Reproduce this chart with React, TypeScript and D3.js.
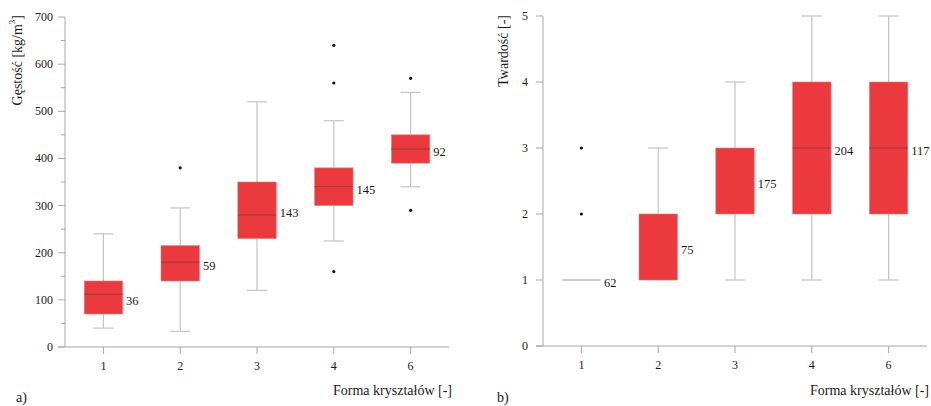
import React from "react";
import * as d3 from "d3";

const categories = ["1", "2", "3", "4", "6"];

// Panel a) density
const densityLow = [40, 33, 120, 225, 340];
const densityQ1 = [70, 140, 230, 300, 390];
const densityMedian = [112, 180, 280, 340, 420];
const densityQ3 = [140, 215, 350, 380, 450];
const densityHigh = [240, 295, 520, 480, 540];
const densityOutliers = [[], [380], [], [640, 560, 160], [570, 290]];
const densityN = [36, 59, 143, 145, 92];
const densityTicks = [0, 100, 200, 300, 400, 500, 600, 700];
const densityMinor = [50, 150, 250, 350, 450, 550, 650];

// Panel b) hardness
const hardLow = [1, 1, 1, 1, 1];
const hardQ1 = [1, 1, 2, 2, 2];
const hardMedian = [1, 1, 2, 3, 3];
const hardQ3 = [1, 2, 3, 4, 4];
const hardHigh = [1, 3, 4, 5, 5];
const hardOutliers = [[3, 2], [], [], [], []];
const hardN = [62, 75, 175, 204, 117];
const hardTicks = [0, 1, 2, 3, 4, 5];

const FONT = "Liberation Serif, Times New Roman, serif";
const BOX_FILL = "#ec393d";
const MEDIAN = "#9a3a3a";
const WHISKER = "#c4c4c4";
const AXIS = "#a8a8a8";
const TEXT = "#1a1a1a";

const tickStyle: React.CSSProperties = { fontFamily: FONT, fontSize: "12px" };
const labelStyle: React.CSSProperties = { fontFamily: FONT, fontSize: "12.5px" };
const titleStyle: React.CSSProperties = { fontFamily: FONT, fontSize: "14px" };

type PanelProps = {
  x0: number;
  x1: number;
  yTop: number;
  yBottom: number;
  domainMax: number;
  ticks: number[];
  minor: number[];
  low: number[];
  q1: number[];
  med: number[];
  q3: number[];
  high: number[];
  outliers: number[][];
  n: number[];
  yTitle: React.ReactNode;
  yTitleX: number;
  tickGap: number;
  xTitleRight: number;
  letter: string;
  letterX: number;
};

function Panel(p: PanelProps) {
  const x = d3.scaleBand<string>().domain(categories).range([p.x0, p.x1]).padding(0);
  const y = d3.scaleLinear().domain([0, p.domainMax]).range([p.yBottom, p.yTop]);
  const bw = x.bandwidth();
  const boxW = bw * 0.5;
  const capW = bw * 0.26;
  return (
    <g>
      <line x1={p.x0} x2={p.x0} y1={p.yTop} y2={p.yBottom} stroke={AXIS} strokeWidth={1} />
      <line x1={p.x0 - 7} x2={p.x1} y1={p.yBottom} y2={p.yBottom} stroke={AXIS} strokeWidth={1} />
      {p.ticks.map((t) => (
        <g key={"t" + t}>
          <line x1={p.x0 - 7} x2={p.x0} y1={y(t)} y2={y(t)} stroke={AXIS} strokeWidth={1} />
          <text x={p.x0 - p.tickGap} y={y(t)} textAnchor="end" dominantBaseline="central" style={tickStyle} fill={TEXT}>
            {t}
          </text>
        </g>
      ))}
      {p.minor.map((t) => (
        <line key={"m" + t} x1={p.x0 - 4} x2={p.x0} y1={y(t)} y2={y(t)} stroke={AXIS} strokeWidth={1} />
      ))}
      {categories.map((c) => {
        const cx = (x(c) as number) + bw / 2;
        return (
          <g key={"x" + c}>
            <line x1={cx} x2={cx} y1={p.yBottom} y2={p.yBottom + 7} stroke={AXIS} strokeWidth={1} />
            <text x={cx} y={p.yBottom + 19} textAnchor="middle" dominantBaseline="central" style={tickStyle} fill={TEXT}>
              {c}
            </text>
          </g>
        );
      })}
      {categories.map((c, i) => {
        const cx = (x(c) as number) + bw / 2;
        const yq1 = y(p.q1[i]);
        const yq3 = y(p.q3[i]);
        const ym = y(p.med[i]);
        const flat = p.q1[i] === p.q3[i];
        const showMed = !flat && p.med[i] !== p.q1[i] && p.med[i] !== p.q3[i];
        return (
          <g key={"b" + c}>
            {p.high[i] > p.q3[i] && (
              <>
                <line x1={cx} x2={cx} y1={y(p.high[i])} y2={yq3} stroke={WHISKER} strokeWidth={1.2} />
                <line x1={cx - capW / 2} x2={cx + capW / 2} y1={y(p.high[i])} y2={y(p.high[i])} stroke={WHISKER} strokeWidth={1.2} />
              </>
            )}
            {p.low[i] < p.q1[i] && (
              <>
                <line x1={cx} x2={cx} y1={yq1} y2={y(p.low[i])} stroke={WHISKER} strokeWidth={1.2} />
                <line x1={cx - capW / 2} x2={cx + capW / 2} y1={y(p.low[i])} y2={y(p.low[i])} stroke={WHISKER} strokeWidth={1.2} />
              </>
            )}
            {flat ? (
              <line x1={cx - boxW / 2} x2={cx + boxW / 2} y1={yq1} y2={yq1} stroke="#9a9a9a" strokeWidth={1} />
            ) : (
              <rect x={cx - boxW / 2} y={yq3} width={boxW} height={yq1 - yq3} fill={BOX_FILL} stroke="#f07a7c" strokeWidth={0.6} />
            )}
            {showMed && <line x1={cx - boxW / 2} x2={cx + boxW / 2} y1={ym} y2={ym} stroke={MEDIAN} strokeWidth={1} />}
            {p.outliers[i].map((o, k) => (
              <circle key={k} cx={cx} cy={y(o)} r={1.6} fill="#111" />
            ))}
            <text x={cx + boxW / 2 + 3.5} y={(yq1 + yq3) / 2 + 3} dominantBaseline="central" style={labelStyle} fill={TEXT}>
              {p.n[i]}
            </text>
          </g>
        );
      })}
      <text
        transform={`translate(${p.yTitleX},15) rotate(-90)`}
        textAnchor="end"
        dominantBaseline="central"
        style={titleStyle}
        fill={TEXT}
      >
        {p.yTitle}
      </text>
      <text x={p.xTitleRight} y={395} textAnchor="end" style={titleStyle} fill={TEXT}>
        Forma kryształów [-]
      </text>
      <text x={p.letterX} y={402} style={titleStyle} fill={TEXT}>
        {p.letter}
      </text>
    </g>
  );
}

export default function App() {
  return (
    <svg width={931} height={406} style={{ position: "absolute", left: 0, top: 0, background: "#fff" }}>
      <rect width={931} height={406} fill="#fff" />
      <Panel
        x0={65}
        x1={449}
        yTop={17}
        yBottom={347}
        domainMax={700}
        ticks={densityTicks}
        minor={densityMinor}
        low={densityLow}
        q1={densityQ1}
        med={densityMedian}
        q3={densityQ3}
        high={densityHigh}
        outliers={densityOutliers}
        n={densityN}
        yTitle={
          <>
            Gęstość [kg/m
            <tspan style={{ fontSize: "9px" }} dy={-5}>
              3
            </tspan>
            <tspan dy={5}>]</tspan>
          </>
        }
        yTitleX={17}
        tickGap={12}
        xTitleRight={452}
        letter="a)"
        letterX={16}
      />
      <Panel
        x0={543}
        x1={927}
        yTop={16}
        yBottom={346}
        domainMax={5}
        ticks={hardTicks}
        minor={[]}
        low={hardLow}
        q1={hardQ1}
        med={hardMedian}
        q3={hardQ3}
        high={hardHigh}
        outliers={hardOutliers}
        n={hardN}
        yTitle="Twardość [-]"
        yTitleX={503}
        tickGap={15}
        xTitleRight={929}
        letter="b)"
        letterX={497}
      />
    </svg>
  );
}
